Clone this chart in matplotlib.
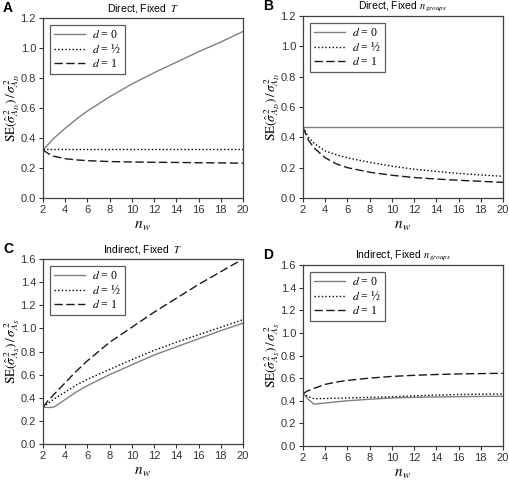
import matplotlib
matplotlib.use('Agg')
import matplotlib.pyplot as plt

plt.rcParams['mathtext.fontset'] = 'stix'
plt.rcParams['font.family'] = ['Liberation Sans', 'DejaVu Sans']

# n_w values shared by all curves
nw = [2, 2.5, 3, 4, 5, 6, 8, 10, 12, 14, 16, 18, 20]

# A: direct, fixed T
a_d0 = [0.32, 0.36, 0.40, 0.465, 0.525, 0.58, 0.675, 0.76, 0.835, 0.905, 0.975, 1.04, 1.11]
a_dh = [0.325] * 13
a_d1 = [0.32, 0.295, 0.278, 0.262, 0.254, 0.249, 0.243, 0.240, 0.238, 0.237, 0.235, 0.234, 0.232]

# B: direct, fixed n_groups
b_d0 = [0.465] * 13
b_dh = [0.465, 0.40, 0.36, 0.31, 0.285, 0.265, 0.235, 0.21, 0.19, 0.175, 0.162, 0.152, 0.143]
b_d1 = [0.465, 0.38, 0.33, 0.265, 0.225, 0.20, 0.17, 0.15, 0.135, 0.125, 0.117, 0.11, 0.103]

# C: indirect, fixed T
c_d0 = [0.32, 0.315, 0.32, 0.385, 0.45, 0.505, 0.60, 0.685, 0.77, 0.84, 0.91, 0.98, 1.045]
c_dh = [0.32, 0.355, 0.39, 0.45, 0.51, 0.56, 0.645, 0.73, 0.81, 0.88, 0.945, 1.01, 1.075]
c_d1 = [0.32, 0.38, 0.43, 0.53, 0.63, 0.72, 0.88, 1.01, 1.14, 1.26, 1.38, 1.49, 1.60]

# D: indirect, fixed n_groups
d_d0 = [0.465, 0.41, 0.37, 0.38, 0.39, 0.40, 0.413, 0.425, 0.43, 0.433, 0.436, 0.438, 0.44]
d_dh = [0.465, 0.435, 0.418, 0.42, 0.422, 0.425, 0.43, 0.435, 0.443, 0.45, 0.455, 0.458, 0.46]
d_d1 = [0.465, 0.49, 0.51, 0.545, 0.565, 0.58, 0.60, 0.615, 0.625, 0.632, 0.637, 0.64, 0.643]

labels = ['$d$ = 0', '$d$ = ½', '$d$ = 1']
titles = ['Direct, Fixed  $T$', r'Direct, Fixed $n_{\,groups}$',
          'Indirect, Fixed  $T$', r'Indirect, Fixed $n_{\,groups}$']
letters = ['A', 'B', 'C', 'D']
ylabs = [r'$\mathrm{SE}(\hat{\sigma}^{\,2}_{A_D})\,/\,\sigma^{\,2}_{A_D}$'] * 2 + \
        [r'$\mathrm{SE}(\hat{\sigma}^{\,2}_{A_S})\,/\,\sigma^{\,2}_{A_S}$'] * 2
series = [(a_d0, a_dh, a_d1), (b_d0, b_dh, b_d1), (c_d0, c_dh, c_d1), (d_d0, d_dh, d_d1)]
ymax = [1.2, 1.2, 1.6, 1.6]

# axes boxes in pixels: left, top, bottom
W, H = 510, 480
boxes = [(43, 18, 198), (303, 16, 198), (43, 259, 444), (303, 265, 446)]

fig = plt.figure(figsize=(5.1, 4.8), dpi=100)
for i in range(4):
    l, t, b = boxes[i]
    ax = fig.add_axes([l / W, 1 - b / H, 200 / W, (b - t) / H])
    y0, yh, y1 = series[i]
    ax.plot(nw, y0, color='0.5', lw=1.0, label=labels[0])
    ax.plot(nw, yh, color='black', lw=1.0, ls=(0, (1, 1.6)), label=labels[1])
    ax.plot(nw, y1, color='0.1', lw=1.0, ls=(0, (6, 2.5)), label=labels[2])
    ax.set_xlim(2, 20)
    ax.set_ylim(0, ymax[i])
    ax.set_xticks(range(2, 21, 2))
    step = 0.2
    n = int(round(ymax[i] / step))
    ax.set_yticks([k * step for k in range(n + 1)])
    ax.set_yticklabels(['%.1f' % (k * step) for k in range(n + 1)])
    ax.tick_params(labelsize=8, length=3, width=0.8, direction='out', colors='0.2', pad=2)
    for s in ax.spines.values():
        s.set_color('0.25')
        s.set_linewidth(0.9)
    ax.set_xlabel(r'$n_{\,w}$', fontsize=11, labelpad=3)
    ax.set_ylabel(ylabs[i], fontsize=9.5)
    ax.yaxis.set_label_coords(-0.105, 0.5)
    ax.set_title(titles[i], fontsize=7.5, pad=5)
    leg = ax.legend(loc='upper left', frameon=True, fancybox=False,
                    handlelength=2.6, handletextpad=0.6, borderpad=0.35, labelspacing=0.15,
                    prop={'family': ['Liberation Serif', 'DejaVu Serif'], 'size': 8.5},
                    borderaxespad=0.6)
    leg.get_frame().set_edgecolor('0.2')
    leg.get_frame().set_linewidth(0.9)
    fig.text((l - 40) / W, 1 - (t - 10) / H, letters[i], fontsize=10, fontweight='bold',
             va='center', ha='left')

fig.savefig('out.png', dpi=100)
